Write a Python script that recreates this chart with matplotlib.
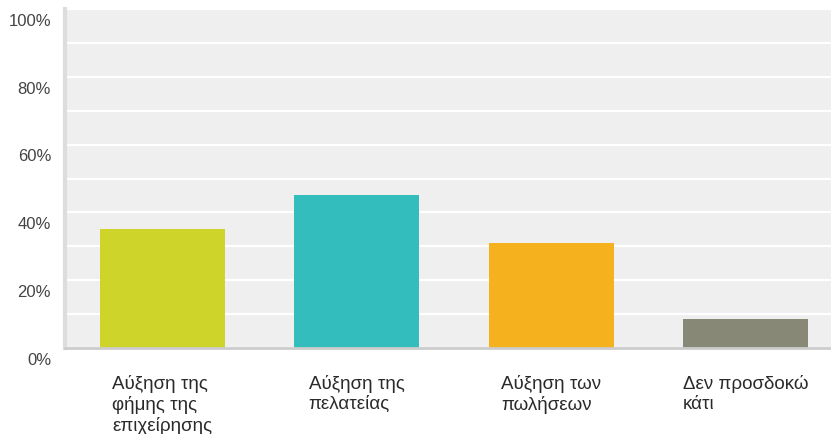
import numpy as np
import matplotlib
matplotlib.use("Agg")
import matplotlib.pyplot as plt
from matplotlib.transforms import ScaledTranslation

categories = ["Αύξηση της\nφήμης της\nεπιχείρησης",
              "Αύξηση της\nπελατείας",
              "Αύξηση των\nπωλήσεων",
              "Δεν προσδοκώ\nκάτι"]
values = [35, 45, 31, 8.6]
colors = ["#cfd42a", "#34bdbd", "#f6b11f", "#888877"]
yticks = [0, 20, 40, 60, 80, 100]
ytick_labels = ["0%", "20%", "40%", "60%", "80%", "100%"]

plt.rcParams["font.family"] = ["Liberation Sans", "DejaVu Sans"]

fig = plt.figure(figsize=(8.31, 4.35), dpi=100)
ax = fig.add_axes([0.0782, 0.1977, 0.9218, 0.7793])
ax.set_facecolor("#efefef")

x = np.arange(len(categories))
ax.bar(x, values, width=0.643, color=colors, zorder=3)

# white grid every 10%
ax.set_ylim(0, 100)
ax.set_yticks(yticks)
ax.set_yticks(np.arange(10, 100, 10), minor=True)
ax.grid(axis="y", which="both", color="white", linewidth=1.6, zorder=1)
ax.set_xlim(-0.5, 3.44)

ax.set_yticklabels(ytick_labels, fontsize=12, color="#444444")
ax.tick_params(axis="y", which="both", length=0, pad=10)
offset = ScaledTranslation(0, -7 / 72, fig.dpi_scale_trans)
for lab in ax.get_yticklabels():
    lab.set_transform(lab.get_transform() + offset)

ax.set_xticks(x)
ax.set_xticklabels(categories, fontsize=13.5, color="#2a2a2a",
                   multialignment="left", linespacing=1.2)
ax.tick_params(axis="x", length=0, pad=19)

for side in ["top", "right"]:
    ax.spines[side].set_visible(False)
ax.spines["left"].set_color("#dddddd")
ax.spines["left"].set_linewidth(3)
ax.spines["bottom"].set_color("#cccccc")
ax.spines["bottom"].set_linewidth(2)
ax.spines["left"].set_zorder(4)
ax.spines["bottom"].set_zorder(4)

fig.savefig("out.png", dpi=100)
